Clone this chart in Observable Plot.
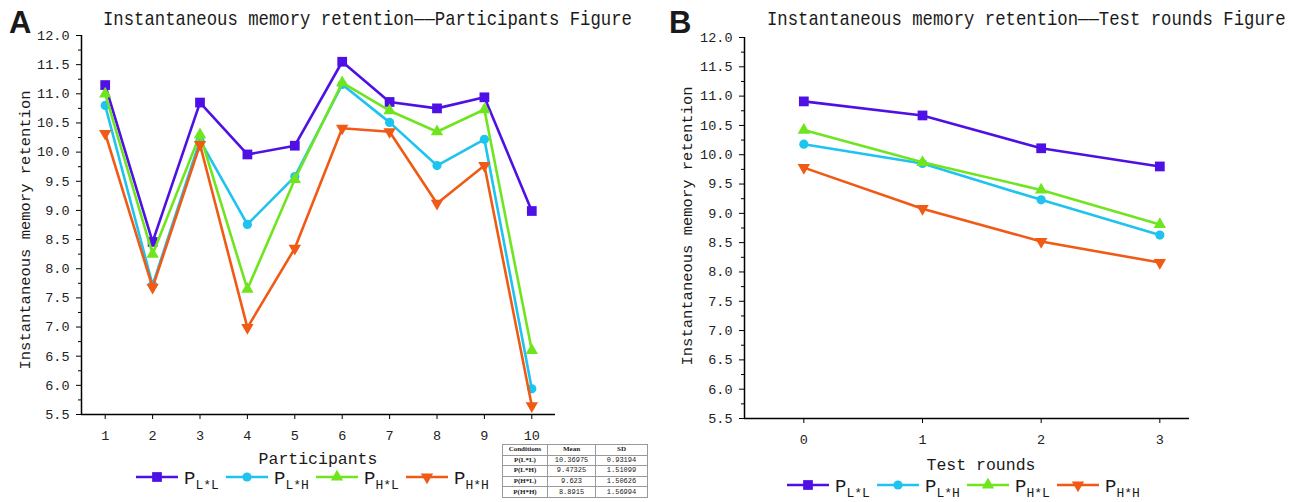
<!DOCTYPE html>
<html><head><meta charset="utf-8">
<script src="https://cdn.jsdelivr.net/npm/d3@7"></script>
<script src="https://cdn.jsdelivr.net/npm/@observablehq/plot@0.6"></script>
<style>
body{margin:0;background:#fff;}
#root{position:relative;width:1299px;height:502px;overflow:hidden;font-family:"Liberation Mono",monospace;color:#1a1a1a;}
.abs{position:absolute;white-space:nowrap;}
.letter{font-family:"Liberation Sans",Arial,sans-serif;font-weight:bold;font-size:31px;line-height:31px;}
.title{font-size:17.3px;line-height:18px;transform:scaleY(1.15);transform-origin:left center;}
.ytitle{font-size:15.5px;line-height:16px;transform:translate(-50%,-50%) rotate(-90deg);}
.xtitle{font-size:16.5px;line-height:13px;transform:translate(-50%,-50%);}
.leg{font-size:19px;line-height:14px;}
.leg sub{font-size:13px;vertical-align:-5px;line-height:10px;}
table.tb{position:absolute;border-collapse:collapse;border:1px solid #444;font-size:7px;}
table.tb td{border:1px solid #999;height:9.6px;padding:0;text-align:center;line-height:9px;}
table.tb td.h{font-family:"Liberation Serif",serif;font-weight:bold;}
</style></head><body><div id="root"></div>
<script>
// ---------- data ----------
const seriesSub = ["L*L", "L*H", "H*L", "H*H"];
const seriesColors = ["#4f10e6", "#1ec3ef", "#6fe51f", "#f05a14"];

const participants = [1, 2, 3, 4, 5, 6, 7, 8, 9, 10];
const partLL = [11.15, 8.46, 10.85, 9.96, 10.11, 11.55, 10.86, 10.75, 10.94, 8.99];
const partLH = [10.80, 7.72, 10.20, 8.76, 9.58, 11.16, 10.51, 9.77, 10.22, 5.94];
const partHL = [11.00, 8.25, 10.30, 7.65, 9.53, 11.19, 10.71, 10.35, 10.73, 6.60];
const partHH = [10.32, 7.68, 10.13, 6.99, 8.35, 10.41, 10.35, 9.12, 9.77, 5.65];

const rounds = [0, 1, 2, 3];
const roundLL = [10.91, 10.67, 10.11, 9.80];
const roundLH = [10.18, 9.85, 9.23, 8.63];
const roundHL = [10.42, 9.87, 9.40, 8.81];
const roundHH = [9.78, 9.08, 8.52, 8.16];

const yTicks = [5.5, 6.0, 6.5, 7.0, 7.5, 8.0, 8.5, 9.0, 9.5, 10.0, 10.5, 11.0, 11.5, 12.0];
const yMinorTicks = [5.75, 6.25, 6.75, 7.25, 7.75, 8.25, 8.75, 9.25, 9.75, 10.25, 10.75, 11.25, 11.75];

const tableHeader = ["Conditions", "Mean", "SD"];
const tableConds = ["P(L*L)", "P(L*H)", "P(H*L)", "P(H*H)"];
const tableMeans = ["10.36975", "9.47325", "9.623", "8.8915"];
const tableSDs = ["0.93194", "1.51099", "1.50626", "1.56994"];

const titleA = "Instantaneous memory retention——Participants Figure";
const titleB = "Instantaneous memory retention——Test rounds Figure";
const yTitle = "Instantaneous memory retention";

// ---------- symbols ----------
const triangleDown = {
  draw(context, size) {
    const s3 = Math.sqrt(3);
    const y = -Math.sqrt(size / (s3 * 3));
    context.moveTo(0, -y * 2);
    context.lineTo(-s3 * y, y);
    context.lineTo(s3 * y, y);
    context.closePath();
  }
};
const symbols = ["square", "circle", "triangle", triangleDown];
const legendSymbols = [d3.symbolSquare, d3.symbolCircle, d3.symbolTriangle, triangleDown];
const symR = [5.5, 4.6, 4.6, 4.6];

const root = document.getElementById("root");
function add(html, cls, style) {
  const d = document.createElement("div");
  d.className = "abs " + (cls || "");
  Object.assign(d.style, style);
  d.innerHTML = html;
  root.appendChild(d);
  return d;
}

function panel({left, width, xs, ys, xDomain, marginLeft, marginRight, marginTop, marginBottom}) {
  const marks = [];
  marks.push(Plot.ruleX([xDomain[0]], {stroke: "#000", strokeWidth: 1.5}));
  marks.push(Plot.ruleY([5.5], {stroke: "#000", strokeWidth: 1.5}));
  marks.push(Plot.axisY({ticks: yMinorTicks, tickSize: 3, tickFormat: () => "", label: null, stroke: "#000"}));
  marks.push(Plot.axisY({ticks: yTicks, tickSize: 5, tickPadding: 7, tickFormat: d => d.toFixed(1), label: null, stroke: "#000", fill: "#222", fontSize: 13.5}));
  marks.push(Plot.axisX({ticks: xs, tickSize: 5, tickPadding: 11, tickFormat: d => String(d), label: null, stroke: "#000", fill: "#222", fontSize: 13.5}));
  ys.forEach((vals, i) => {
    const rows = xs.map((x, j) => ({x, y: vals[j]}));
    marks.push(Plot.line(rows, {x: "x", y: "y", stroke: seriesColors[i], strokeWidth: 2.6}));
    marks.push(Plot.dot(rows, {x: "x", y: "y", fill: seriesColors[i], stroke: "none", symbol: symbols[i], r: symR[i]}));
  });
  const svg = Plot.plot({
    width, height: 502, marginLeft, marginRight, marginTop, marginBottom,
    x: {domain: xDomain, axis: null},
    y: {domain: [5.5, 12], axis: null},
    style: {fontFamily: "Liberation Mono, monospace", fontSize: "13px", background: "transparent", overflow: "visible"},
    marks
  });
  svg.style.position = "absolute";
  svg.style.left = left + "px";
  svg.style.top = "0px";
  root.appendChild(svg);
}

panel({left: 0, width: 650, xs: participants, ys: [partLL, partLH, partHL, partHH],
  xDomain: [0.5, 10.5], marginLeft: 81, marginRight: 650 - 555, marginTop: 35, marginBottom: 502 - 414});
panel({left: 650, width: 649, xs: rounds, ys: [roundLL, roundLH, roundHL, roundHH],
  xDomain: [-0.5, 3.25], marginLeft: 94, marginRight: 649 - 539, marginTop: 37, marginBottom: 502 - 418});

// panel letters and titles
add("A", "letter", {left: "9px", top: "7px"});
add("B", "letter", {left: "669px", top: "7px"});
add(titleA, "title", {left: "103px", top: "11px"});
add(titleB, "title", {left: "767px", top: "11px"});
add(yTitle, "ytitle", {left: "26px", top: "230px"});
add(yTitle, "ytitle", {left: "688px", top: "226px"});
add("Participants", "xtitle", {left: "318px", top: "459px"});
add("Test rounds", "xtitle", {left: "981px", top: "465px"});

// legends
function legend(x0, yLine, step) {
  seriesSub.forEach((sub, i) => {
    const x = x0 + i * step;
    const svg = d3.create("svg").attr("width", 44).attr("height", 16)
      .style("position", "absolute").style("left", x + "px").style("top", (yLine - 8) + "px");
    svg.append("line").attr("x1", 1).attr("x2", 43).attr("y1", 8).attr("y2", 8)
      .attr("stroke", seriesColors[i]).attr("stroke-width", 2.6);
    svg.append("path").attr("transform", "translate(22,8)")
      .attr("d", d3.symbol(legendSymbols[i], Math.PI * symR[i] * symR[i])())
      .attr("fill", seriesColors[i]);
    root.appendChild(svg.node());
    add("P<sub>" + sub + "</sub>", "leg", {left: (x + 49) + "px", top: (yLine - 5) + "px"});
  });
}
legend(135, 477, 90);
legend(786, 485, 90);

// table
const tb = document.createElement("table");
tb.className = "tb";
Object.assign(tb.style, {left: "502px", top: "444px", width: "146px"});
let html = "<tr><td class='h' style='width:44px'>" + tableHeader[0] + "</td><td class='h' style='width:47px'>" + tableHeader[1] + "</td><td class='h'>" + tableHeader[2] + "</td></tr>";
tableConds.forEach((c, i) => {
  html += "<tr><td class='h'>" + c + "</td><td>" + tableMeans[i] + "</td><td>" + tableSDs[i] + "</td></tr>";
});
tb.innerHTML = html;
root.appendChild(tb);
</script>
</body></html>
